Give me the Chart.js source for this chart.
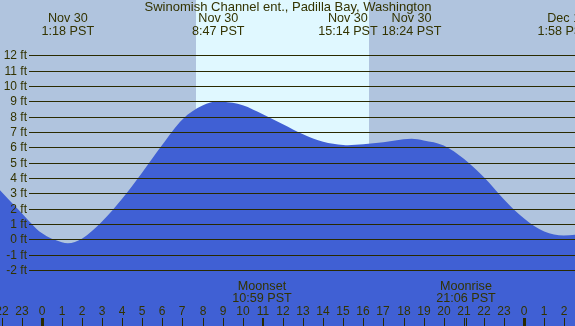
<!DOCTYPE html>
<html>
<head>
<meta charset="utf-8">
<script src="https://cdn.jsdelivr.net/npm/chart.js@4"></script>
<style>
  body { margin: 0; background: #b0c4de; }
  canvas { display: block; }
</style>
</head>
<body>
<canvas id="tideChart" width="575" height="326"></canvas>
<script>
// Getijdedata (uren vanaf middernacht 30 nov)
const titleText = 'Swinomish Channel ent., Padilla Bay, Washington';
const hours = [-2.075, -1, 0, 1, 1.3, 2, 3, 4, 5, 6, 7, 8, 8.78, 9, 10, 11, 12, 13, 14, 15, 15.23, 16, 17, 18, 18.4, 19, 20, 21, 22, 23, 24, 25, 25.97, 26.53];
const feet  = [3.2, 1.72, 0.4, -0.2, -0.26, 0.03, 1.15, 2.64, 4.36, 6.17, 7.82, 8.72, 9.0, 8.98, 8.74, 8.15, 7.5, 6.85, 6.36, 6.15, 6.14, 6.2, 6.33, 6.52, 6.55, 6.45, 6.12, 5.25, 4.05, 2.6, 1.35, 0.5, 0.24, 0.3];

// Hoog- en laagwater labels bovenaan
const extremeHours = [1.3, 8.783, 15.233, 18.4, 25.967];
const extremeDays  = ['Nov 30', 'Nov 30', 'Nov 30', 'Nov 30', 'Dec 1'];
const extremeTimes = ['1:18 PST', '8:47 PST', '15:14 PST', '18:24 PST', '1:58 PST'];

// Zon en maan
const sunrise = 7.68;
const sunset = 16.28;
const moonHours  = [10.983, 21.1];
const moonNames  = ['Moonset', 'Moonrise'];
const moonTimes  = ['10:59 PST', '21:06 PST'];

// As-ticks
const feetTicks = [-2, -1, 0, 1, 2, 3, 4, 5, 6, 7, 8, 9, 10, 11, 12];
const hourTicks = [-2, -1, 0, 1, 2, 3, 4, 5, 6, 7, 8, 9, 10, 11, 12, 13, 14, 15, 16, 17, 18, 19, 20, 21, 22, 23, 24, 25, 26];

const textColor = '#333300';
const lineColor = '#2a2a00';
const font = '12px "Liberation Sans", Arial, sans-serif';
const bigFont = '12.6px "Liberation Sans", Arial, sans-serif';
const titleFont = '13px "Liberation Sans", Arial, sans-serif';

const tidePlugin = {
    id: 'tideDecor',
    beforeDatasetsDraw(chart) {
        const c = chart.ctx;
        const xs = chart.scales.x;
        c.save();
        c.fillStyle = '#b0c4de';
        c.fillRect(0, 0, chart.width, chart.height);
        const x1 = Math.round(xs.getPixelForValue(sunrise));
        const x2 = Math.round(xs.getPixelForValue(sunset));
        c.fillStyle = '#e0f8ff';
        c.fillRect(x1, 0, x2 - x1, chart.height);
        c.restore();
    },
    afterDatasetsDraw(chart) {
        const c = chart.ctx;
        const xs = chart.scales.x;
        const ys = chart.scales.y;
        c.save();
        c.font = font;

        // horizontale lijnen + ft labels
        feetTicks.forEach(v => {
            const y = Math.round(ys.getPixelForValue(v)) + 0.5;
            c.strokeStyle = lineColor;
            c.lineWidth = 1;
            c.beginPath();
            c.moveTo(29, y);
            c.lineTo(chart.width, y);
            c.stroke();
            c.fillStyle = textColor;
            c.textAlign = 'right';
            c.textBaseline = 'middle';
            c.fillText(v + ' ft', 27, y);
        });

        // uurticks onderaan
        c.textAlign = 'center';
        c.textBaseline = 'middle';
        hourTicks.forEach(h => {
            const x = Math.round(xs.getPixelForValue(h));
            const mid = (h % 24 === 0);
            c.fillStyle = lineColor;
            c.fillRect(mid ? x - 1 : x, 318, mid ? 3 : 1, 8);
            c.fillStyle = textColor;
            c.fillText(String(((h % 24) + 24) % 24), x, 312);
        });

        // maan
        c.font = bigFont;
        moonHours.forEach((h, i) => {
            const x = Math.round(xs.getPixelForValue(h));
            c.fillStyle = lineColor;
            c.fillRect(x, 318, 1, 8);
            c.fillStyle = textColor;
            c.fillText(moonNames[i], x, 287);
            c.fillText(moonTimes[i], x, 299);
        });

        // titel en extremen
        extremeHours.forEach((h, i) => {
            const x = xs.getPixelForValue(h);
            c.fillText(extremeDays[i], x, 19);
            c.fillText(extremeTimes[i], x, 32);
        });
        c.font = titleFont;
        c.fillText(titleText, 288, 7);
        c.restore();
    }
};

const ctx = document.getElementById('tideChart').getContext('2d');
const tideChart = new Chart(ctx, {
    type: 'line',
    data: {
        datasets: [{
            data: hours.map((h, i) => ({ x: h, y: feet[i] })),
            backgroundColor: '#4060d4',
            borderWidth: 0,
            pointRadius: 0,
            fill: 'start',
            cubicInterpolationMode: 'monotone'
        }]
    },
    options: {
        responsive: false,
        animation: false,
        layout: { padding: 0 },
        scales: {
            x: { type: 'linear', min: -2.075, max: 26.53, display: false },
            y: { min: -5.66, max: 15.61, display: false }
        },
        plugins: {
            legend: { display: false },
            tooltip: { enabled: false }
        }
    },
    plugins: [tidePlugin]
});
</script>
</body>
</html>
